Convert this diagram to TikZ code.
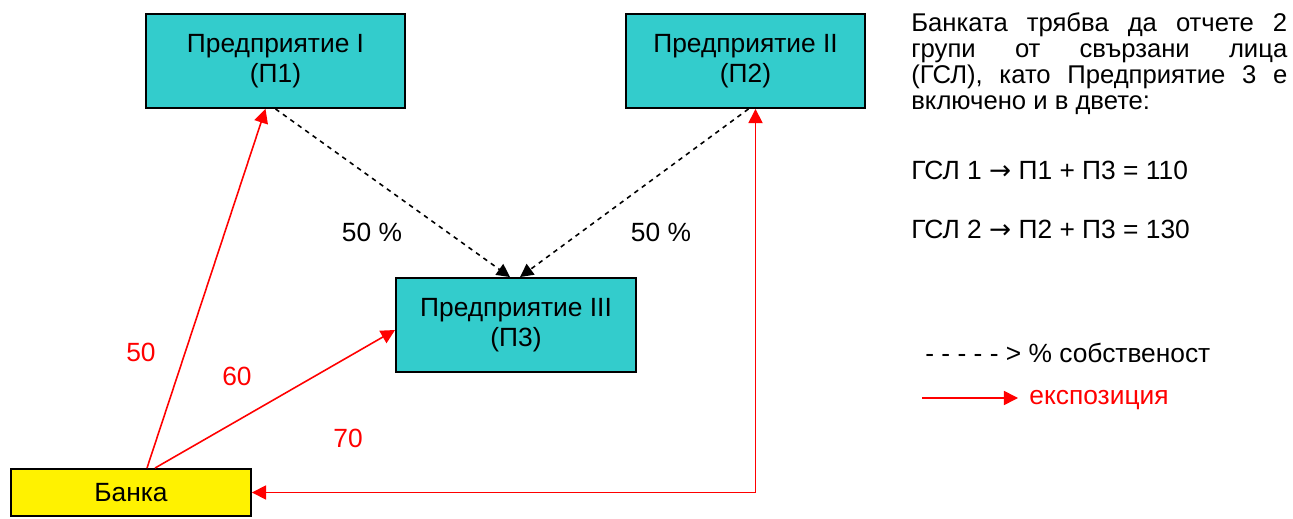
\documentclass[tikz,border=0pt]{standalone}
\usepackage{fontspec}
\setmainfont{Liberation Sans}
\newfontfamily\arrowfont{DejaVu Sans}
\usepackage{xcolor}
\usetikzlibrary{positioning, arrows.meta, calc}

\definecolor{firmcyan}{HTML}{33CCCC}

\begin{document}
\begin{tikzpicture}[x=0.02cm, y=-0.02cm,
    font=\fontsize{15}{17}\selectfont,
    firm/.style={draw=black, line width=1.1pt, fill=firmcyan, minimum height=1.88cm, align=center, inner sep=0},
    bank/.style={draw=black, line width=1.1pt, fill=yellow, minimum width=4.8cm, minimum height=0.94cm, inner sep=0},
    own/.style={dashed, dash pattern=on 2.6pt off 2.6pt, line width=0.9pt, -{Triangle[length=7.5pt,width=7.5pt]}},
    expo/.style={red, line width=0.9pt, -{Triangle[length=8pt,width=8pt]}},
    lbl/.style={inner sep=0}]
    \useasboundingbox (0,0) rectangle (1293,519);

    % firms and the bank
    \node[firm, minimum width=5.18cm] (p1) at (275.5,61) {Предприятие I\\(П1)};
    \node[firm, minimum width=4.78cm] (p2) at (745.5,61) {Предприятие II\\(П2)};
    \node[firm, minimum width=4.8cm] (p3) at (516,325) {Предприятие III\\(П3)};
    \node[bank] (bk) at (131,492.5) {Банка};

    % ownership
    \draw[own] (p1.south) -- ($(p3.north)+(-6,0)$);
    \draw[own] ($(p2.south)+(3,0)$) -- ($(p3.north)+(4,0)$);
    \node[lbl] (o1) at (372,232) {50 \%};
    \node[lbl] (o2) at (661,232) {50 \%};

    % exposures
    \draw[expo] ($(bk.north)+(16,0)$) -- ($(p1.south)+(-10,0)$);
    \draw[expo] ($(bk.north)+(24,0)$) -- ($(p3.west)+(0,5)$);
    \draw[expo, {Triangle[length=8pt,width=8pt]}-{Triangle[length=8pt,width=8pt]}] (bk.east) -| ($(p2.south)+(10,0)$);
    \node[lbl, red] (e1) at (141,352) {50};
    \node[lbl, red] (e2) at (237,376) {60};
    \node[lbl, red] (e3) at (348,438) {70};

    % notes
    \node[lbl, anchor=north west, text width=7.52cm, align=justify, font=\fontsize{14.6}{14.8}\selectfont] (note) at (911,12)
        {Банката трябва да отчете 2\linebreak групи от свързани лица\linebreak (ГСЛ), като Предприятие 3 е\linebreak включено и в двете:};
    \node[lbl, anchor=west] (g1) at (911,170) {ГСЛ 1 {\arrowfont →} П1 + П3 = 110};
    \node[lbl, anchor=west] (g2) at (911,229) {ГСЛ 2 {\arrowfont →} П2 + П3 = 130};

    % legend
    \node[lbl, anchor=west] (lg1) at (925,353) {- - - - - > \% собственост};
    \coordinate (la) at (922,398);
    \coordinate (lb) at (1018,398);
    \draw[expo] (la) -- (lb);
    \node[lbl, anchor=west, red] (lg2) at (1029,400) {експозиция};
\end{tikzpicture}
\end{document}
